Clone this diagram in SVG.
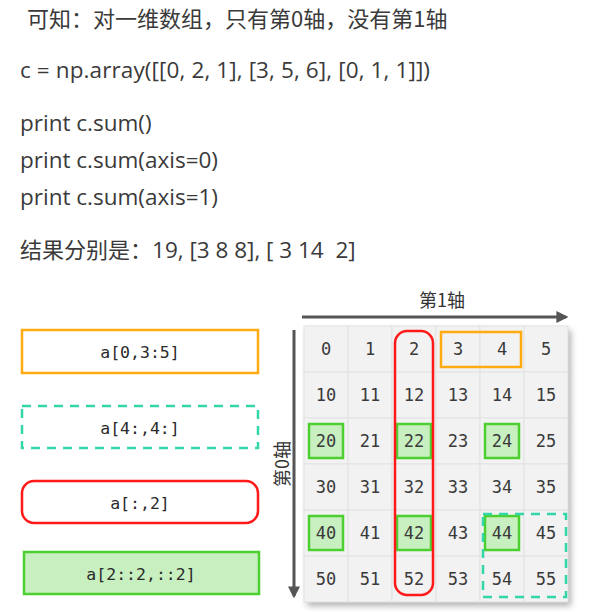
<svg xmlns="http://www.w3.org/2000/svg" width="591" height="612" viewBox="0 0 591 612">
<style>
.t{font-family:"Open Sans","Noto Sans CJK SC",sans-serif;font-size:22.5px;fill:#3a3a3a;white-space:pre}
.c{font-family:"Noto Sans CJK SC",sans-serif;font-size:22px;fill:#3a3a3a}
.m{font-family:"DejaVu Sans Mono","Liberation Mono",monospace;font-size:16.5px;fill:#2a2a2a;text-anchor:middle;dominant-baseline:central}
.n{font-family:"DejaVu Sans Mono","Liberation Mono",monospace;font-size:17px;fill:#3a3a3a;text-anchor:middle;dominant-baseline:central}
.ax{font-family:"Noto Sans CJK SC",sans-serif;font-size:18px;fill:#333;text-anchor:middle;dominant-baseline:central}
.cell{fill:#f2f2f2;stroke:#e2e2e2;stroke-width:1}
.g{fill:#c8efc0;stroke:#4cd030;stroke-width:2.5}
.arr{stroke:#555;stroke-width:3;fill:none}
</style>
<defs>
<marker id="ah" viewBox="0 0 10 10" refX="8" refY="5" markerWidth="4" markerHeight="4" orient="auto" markerUnits="strokeWidth">
<path d="M0,0 L10,5 L0,10 z" fill="#555"/>
</marker>
<filter id="sh" x="-10%" y="-10%" width="130%" height="130%">
<feDropShadow dx="3" dy="4" stdDeviation="3" flood-color="#000" flood-opacity="0.3"/>
</filter>
</defs>
<g id="text">
<text class="c" x="27" y="27">可知：对一维数组，只有第0轴，没有第1轴</text>
<text class="t" x="20" y="78" textLength="410" lengthAdjust="spacing">c = np.array([[0, 2, 1], [3, 5, 6], [0, 1, 1]])</text>
<text class="t" x="20" y="131">print c.sum()</text>
<text class="t" x="20" y="168" textLength="198" lengthAdjust="spacing">print c.sum(axis=0)</text>
<text class="t" x="20" y="205" textLength="198" lengthAdjust="spacing">print c.sum(axis=1)</text>
<text class="t" x="20" y="258" xml:space="preserve"><tspan class="c">结果分别是：</tspan>19, [3 8 8], [ 3 14  2]</text>
</g>
<g id="box-orange"><rect x="22" y="330" width="236" height="43" fill="#fff" stroke="#ffab10" stroke-width="2.5"/><text class="m" x="140" y="352">a[0,3:5]</text></g>
<g id="box-teal"><rect x="22" y="406" width="236" height="42" fill="#fff" stroke="#33d6a8" stroke-width="2.5" stroke-dasharray="9,7"/><text class="m" x="140" y="428">a[4:,4:]</text></g>
<g id="box-red"><rect x="22" y="481" width="236" height="42" rx="12" fill="#fff" stroke="#ff1a1a" stroke-width="2.5"/><text class="m" x="140" y="503">a[:,2]</text></g>
<g id="box-green"><rect x="24" y="552" width="235" height="42" fill="#c8efc0" stroke="#4cd030" stroke-width="2.5"/><text class="m" x="141" y="574">a[2::2,::2]</text></g>
<g id="grid" filter="url(#sh)">
<rect x="304" y="326" width="264" height="276" fill="#f2f2f2"/>
</g>
<g id="cells">
<g id="r0"><rect class="cell" x="304" y="326" width="44" height="46"/><rect class="cell" x="348" y="326" width="44" height="46"/><rect class="cell" x="392" y="326" width="44" height="46"/><rect class="cell" x="436" y="326" width="44" height="46"/><rect class="cell" x="480" y="326" width="44" height="46"/><rect class="cell" x="524" y="326" width="44" height="46"/></g>
<g id="r1"><rect class="cell" x="304" y="372" width="44" height="46"/><rect class="cell" x="348" y="372" width="44" height="46"/><rect class="cell" x="392" y="372" width="44" height="46"/><rect class="cell" x="436" y="372" width="44" height="46"/><rect class="cell" x="480" y="372" width="44" height="46"/><rect class="cell" x="524" y="372" width="44" height="46"/></g>
<g id="r2"><rect class="cell" x="304" y="418" width="44" height="46"/><rect class="cell" x="348" y="418" width="44" height="46"/><rect class="cell" x="392" y="418" width="44" height="46"/><rect class="cell" x="436" y="418" width="44" height="46"/><rect class="cell" x="480" y="418" width="44" height="46"/><rect class="cell" x="524" y="418" width="44" height="46"/></g>
<g id="r3"><rect class="cell" x="304" y="464" width="44" height="46"/><rect class="cell" x="348" y="464" width="44" height="46"/><rect class="cell" x="392" y="464" width="44" height="46"/><rect class="cell" x="436" y="464" width="44" height="46"/><rect class="cell" x="480" y="464" width="44" height="46"/><rect class="cell" x="524" y="464" width="44" height="46"/></g>
<g id="r4"><rect class="cell" x="304" y="510" width="44" height="46"/><rect class="cell" x="348" y="510" width="44" height="46"/><rect class="cell" x="392" y="510" width="44" height="46"/><rect class="cell" x="436" y="510" width="44" height="46"/><rect class="cell" x="480" y="510" width="44" height="46"/><rect class="cell" x="524" y="510" width="44" height="46"/></g>
<g id="r5"><rect class="cell" x="304" y="556" width="44" height="46"/><rect class="cell" x="348" y="556" width="44" height="46"/><rect class="cell" x="392" y="556" width="44" height="46"/><rect class="cell" x="436" y="556" width="44" height="46"/><rect class="cell" x="480" y="556" width="44" height="46"/><rect class="cell" x="524" y="556" width="44" height="46"/></g>
</g>
<g id="green-marks">
<rect class="g" x="309" y="424" width="34" height="34"/>
<rect class="g" x="397" y="424" width="34" height="34"/>
<rect class="g" x="485" y="424" width="34" height="34"/>
<rect class="g" x="309" y="516" width="34" height="34"/>
<rect class="g" x="397" y="516" width="34" height="34"/>
<rect class="g" x="485" y="516" width="34" height="34"/>
</g>
<g id="numbers">
<text class="n" x="326" y="349">0</text><text class="n" x="370" y="349">1</text><text class="n" x="414" y="349">2</text><text class="n" x="458" y="349">3</text><text class="n" x="502" y="349">4</text><text class="n" x="546" y="349">5</text>
<text class="n" x="326" y="395">10</text><text class="n" x="370" y="395">11</text><text class="n" x="414" y="395">12</text><text class="n" x="458" y="395">13</text><text class="n" x="502" y="395">14</text><text class="n" x="546" y="395">15</text>
<text class="n" x="326" y="441">20</text><text class="n" x="370" y="441">21</text><text class="n" x="414" y="441">22</text><text class="n" x="458" y="441">23</text><text class="n" x="502" y="441">24</text><text class="n" x="546" y="441">25</text>
<text class="n" x="326" y="487">30</text><text class="n" x="370" y="487">31</text><text class="n" x="414" y="487">32</text><text class="n" x="458" y="487">33</text><text class="n" x="502" y="487">34</text><text class="n" x="546" y="487">35</text>
<text class="n" x="326" y="533">40</text><text class="n" x="370" y="533">41</text><text class="n" x="414" y="533">42</text><text class="n" x="458" y="533">43</text><text class="n" x="502" y="533">44</text><text class="n" x="546" y="533">45</text>
<text class="n" x="326" y="579">50</text><text class="n" x="370" y="579">51</text><text class="n" x="414" y="579">52</text><text class="n" x="458" y="579">53</text><text class="n" x="502" y="579">54</text><text class="n" x="546" y="579">55</text>
</g>
<g id="selections">
<rect x="441" y="332" width="80" height="35" fill="none" stroke="#ffab10" stroke-width="2.5"/>
<rect x="395" y="331" width="38" height="264" rx="12" fill="none" stroke="#ff1a1a" stroke-width="2.5"/>
<rect x="483" y="514" width="83" height="83" fill="none" stroke="#33d6a8" stroke-width="2.5" stroke-dasharray="9,7"/>
</g>
<g id="connectors">
<line class="arr" x1="302" y1="317" x2="566" y2="317" marker-end="url(#ah)"/>
<line class="arr" x1="294" y1="330" x2="294" y2="596" marker-end="url(#ah)"/>
</g>
<g id="axis-labels">
<text class="ax" x="442" y="299">第1轴</text>
<text class="ax" x="281" y="464" transform="rotate(-90 281 464)">第0轴</text>
</g>
</svg>
